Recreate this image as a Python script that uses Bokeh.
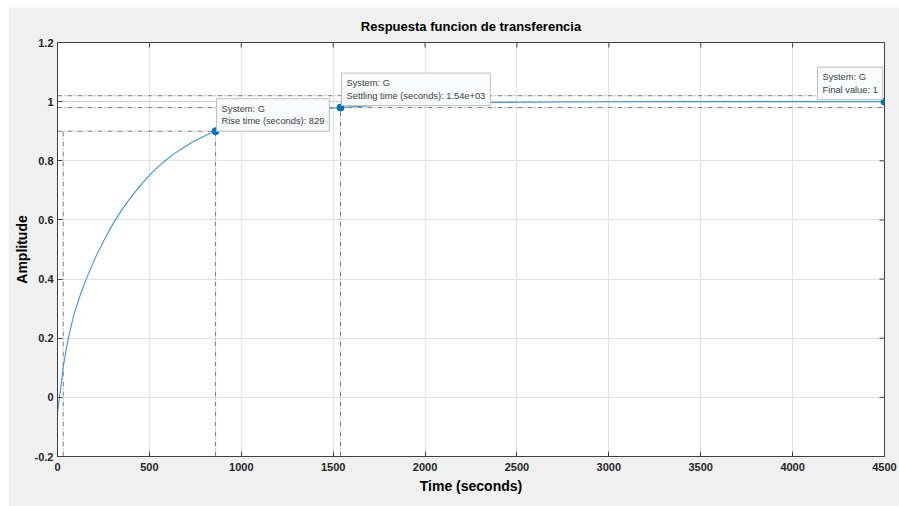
from bokeh.plotting import figure
from bokeh.models import Label, FixedTicker, Range1d, Spacer
from bokeh.layouts import column, row
from bokeh.embed import file_html
from bokeh.resources import INLINE

# ---- data ----
time_s = [0, 15, 31, 45, 63, 91, 127, 163, 208, 254, 300, 350, 400, 450, 506, 550,
          597, 640, 687, 730, 778, 820, 860, 1000, 1200, 1400, 1540, 1800, 2000,
          2500, 3000, 3500, 4000, 4500]
amplitude = [-0.05, 0.02, 0.10, 0.155, 0.212, 0.283, 0.352, 0.410, 0.475, 0.532,
             0.585, 0.634, 0.677, 0.716, 0.755, 0.781, 0.806, 0.826, 0.845, 0.862,
             0.877, 0.890, 0.900, 0.930, 0.958, 0.973, 0.980, 0.990, 0.994, 0.998,
             0.9995, 1.0, 1.0, 1.0]
rise_start, rise_end = 31, 860
rise_low, rise_high = 0.1, 0.9
settling_time, settling_value = 1540, 0.98
band_low, band_high = 0.98, 1.02
final_time, final_value = 4500, 1.0
x_ticks = [0, 500, 1000, 1500, 2000, 2500, 3000, 3500, 4000, 4500]
x_labels = ["0", "500", "1000", "1500", "2000", "2500", "3000", "3500", "4000", "4500"]
y_ticks = [-0.2, 0, 0.2, 0.4, 0.6, 0.8, 1.0, 1.2]
y_labels = ["-0.2", "0", "0.2", "0.4", "0.6", "0.8", "1", "1.2"]
tip_rise = "System: G\nRise time (seconds): 829"
tip_settle = "System: G\nSettling time (seconds): 1.54e+03"
tip_final = "System: G\nFinal value: 1"

X_MIN, X_MAX = 0, 4500
Y_MIN, Y_MAX = -0.2, 1.2

FONT = "Liberation Sans"
BG = "#f0f0f0"
AX = "#404040"
TXT = "#262626"
REF = "#7a7a7a"
BLUE = "#0072BD"

p = figure(width=891, height=499, output_backend="svg", toolbar_location=None,
           x_range=Range1d(X_MIN, X_MAX), y_range=Range1d(Y_MIN, Y_MAX),
           min_border_left=49, min_border_right=15, min_border_top=35, min_border_bottom=50,
           background_fill_color="white", border_fill_color=BG,
           title="Respuesta funcion de transferencia")
p.title.align = "center"
p.title.text_font = FONT
p.title.text_font_size = "13px"
p.title.text_font_style = "bold"
p.title.text_color = "#000000"
p.title.standoff = 17
p.outline_line_color = AX
p.outline_line_alpha = 1

p.xaxis.ticker = FixedTicker(ticks=x_ticks)
p.yaxis.ticker = FixedTicker(ticks=y_ticks)
p.xaxis.major_label_overrides = dict(zip(x_ticks, x_labels))
p.yaxis.major_label_overrides = dict(zip(y_ticks, y_labels))
p.xaxis.axis_label = "Time (seconds)"
p.yaxis.axis_label = "Amplitude"
for ax in (p.xaxis[0], p.yaxis[0]):
    ax.axis_line_color = AX
    ax.major_tick_line_color = AX
    ax.major_tick_in = 5
    ax.major_tick_out = 0
    ax.minor_tick_line_color = None
    ax.major_label_text_font = FONT
    ax.major_label_text_font_size = "11px"
    ax.major_label_text_font_style = "bold"
    ax.major_label_text_color = TXT
    ax.axis_label_text_font = FONT
    ax.axis_label_text_font_size = "14px"
    ax.axis_label_text_font_style = "bold"
    ax.axis_label_text_color = "#000000"
p.xaxis.major_label_standoff = 6
p.xaxis.axis_label_standoff = 4
p.yaxis.major_label_standoff = 4
p.yaxis.axis_label_standoff = 2

p.grid.grid_line_color = "#e3e3e3"
p.grid.grid_line_width = 1

# inward tick marks on the top and right edges (MATLAB "box on")
tick_len_y = 5 * (Y_MAX - Y_MIN) / 414
tick_len_x = 5 * (X_MAX - X_MIN) / 827
p.segment(x0=x_ticks, y0=[Y_MAX] * len(x_ticks), x1=x_ticks,
          y1=[Y_MAX - tick_len_y] * len(x_ticks), line_color=AX, line_width=1)
p.segment(x0=[X_MAX] * len(y_ticks), y0=y_ticks, x1=[X_MAX - tick_len_x] * len(y_ticks),
          y1=y_ticks, line_color=AX, line_width=1)

# reference lines
dd = "5 2 1 2"
p.line([X_MIN, X_MAX], [band_high, band_high], line_color=REF, line_dash=dd, line_width=1)
p.line([X_MIN, X_MAX], [band_low, band_low], line_color=REF, line_dash=dd, line_width=1)
p.line([X_MIN, X_MAX], [final_value, final_value], line_color="#9a9a9a", line_dash="1 2", line_width=1)
p.line([X_MIN, rise_end], [rise_high, rise_high], line_color=REF, line_dash=dd, line_width=1)
p.line([rise_start, rise_start], [Y_MIN, rise_high], line_color=REF, line_dash=dd, line_width=1)
p.line([rise_end, rise_end], [Y_MIN, rise_high], line_color=REF, line_dash=dd, line_width=1)
p.line([settling_time, settling_time], [Y_MIN, settling_value], line_color=REF, line_dash=dd, line_width=1)

# response
p.line(time_s, amplitude, line_color="#3d95d4", line_width=1.1)
p.scatter([rise_end, settling_time, final_time], [rise_high, settling_value, final_value],
          size=7, color=BLUE)

def tip(x, y, text, xo, yo):
    lab = Label(x=x, y=y, text=text, x_offset=xo, y_offset=yo,
                text_align="left", text_baseline="bottom",
                text_font=FONT, text_font_size="9.3px", text_color="#404040",
                text_line_height=1.25,
                background_fill_color="#fafbfd", border_line_color="#bdbdbd",
                border_line_width=1, padding=5)
    p.add_layout(lab)

tip(rise_end, rise_high, tip_rise, 1, 0)
tip(settling_time, settling_value, tip_settle, 1, 2)
tip(final_time, final_value, tip_final, -67, 2)

layout = column(Spacer(height=7), row(Spacer(width=8), p))
open("out.html", "w").write(file_html(layout, INLINE))
